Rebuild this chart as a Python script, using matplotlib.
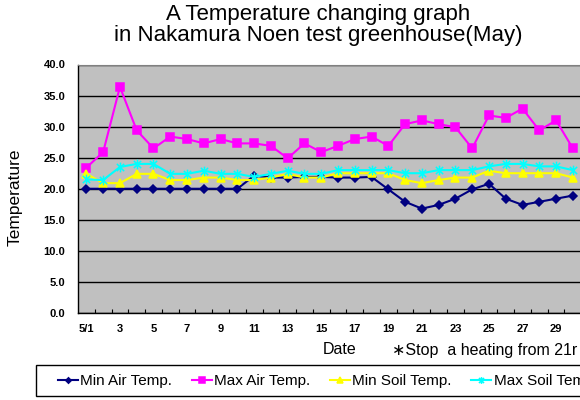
import numpy as np
import matplotlib
matplotlib.use("Agg")
import matplotlib.pyplot as plt
from matplotlib.path import Path
from matplotlib.patches import Rectangle

plt.rcParams['font.family'] = ['Liberation Sans', 'DejaVu Sans']

# Data (May, day 31 not visible)
days = list(range(1, 32))
tick_days = [d for d in days if d % 2 == 1 and d < 31]
tick_labels = ["5/1" if d == 1 else str(d) for d in tick_days]

min_air = [20.0, 20.0, 20.0, 20.0, 20.0, 20.0, 20.0, 20.0, 20.0, 20.0,
           22.1, 21.8, 21.8, 21.9, 21.9, 21.8, 21.8, 21.9, 19.9, 17.9,
           16.8, 17.4, 18.4, 19.9, 20.8, 18.4, 17.4, 17.9, 18.4, 18.9, np.nan]
max_air = [23.4, 25.9, 36.4, 29.4, 26.5, 28.4, 28.0, 27.3, 28.0, 27.3,
           27.3, 26.9, 24.9, 27.3, 25.9, 26.9, 28.0, 28.4, 26.9, 30.4,
           31.0, 30.4, 29.9, 26.5, 31.8, 31.4, 32.9, 29.4, 31.0, 26.5, np.nan]
min_soil = [22.4, 20.9, 20.9, 22.4, 22.4, 21.4, 21.4, 21.8, 21.8, 21.4,
            21.4, 21.8, 22.4, 21.8, 21.8, 22.5, 22.5, 22.5, 22.5, 21.4,
            20.9, 21.4, 21.8, 21.8, 22.9, 22.5, 22.5, 22.5, 22.5, 21.8, np.nan]
max_soil = [21.5, 21.4, 23.5, 24.0, 24.0, 22.4, 22.4, 22.9, 22.4, 22.4,
            21.9, 22.4, 22.9, 22.4, 22.4, 23.0, 23.0, 23.0, 23.0, 22.5,
            22.5, 23.0, 23.0, 23.0, 23.6, 24.0, 24.0, 23.6, 23.6, 23.0, np.nan]

# Excel-like star marker: X with a vertical bar
star = Path([(0, -1), (0, 1), (-0.75, -0.75), (0.75, 0.75),
             (-0.75, 0.75), (0.75, -0.75)],
            [Path.MOVETO, Path.LINETO] * 3)

series = [
    ("Min Air Temp.", min_air, "#000080", "D", 4),
    ("Max Air Temp.", max_air, "#FF00FF", "s", 5.5),
    ("Min Soil Temp.", min_soil, "#FFFF00", "^", 6),
    ("Max Soil Temp.", max_soil, "#00FFFF", star, 7),
]

# Figure
fig = plt.figure(figsize=(5.8, 4.0), dpi=100)
ax = fig.add_axes([78 / 580, 87 / 400, 520 / 580, 248.5 / 400])
ax.set_facecolor("#C0C0C0")

x = np.arange(len(days))
for name, vals, color, marker, ms in series:
    ax.plot(x, vals, color=color, linewidth=1.5, marker=marker,
            markersize=ms, markeredgecolor=color, markeredgewidth=1.1,
            label=name, clip_on=False)

ax.set_xlim(-0.5, len(days) - 0.5)
ax.set_ylim(0, 40)

# Y axis
ax.set_yticks(np.arange(0, 41, 5))
ax.set_yticklabels([f"{v:.1f}" for v in np.arange(0, 41, 5)],
                   fontsize=8, fontweight="bold")
ax.yaxis.grid(True, color="black", linewidth=1.0)
ax.set_axisbelow(True)
ax.tick_params(axis="y", length=0, pad=9)

# X axis: labels at odd days, ticks at category boundaries
ax.set_xticks([d - 1 for d in tick_days])
ax.set_xticklabels(tick_labels, fontsize=8, fontweight="bold")
ax.set_xticks(np.arange(0.5, len(days) - 0.5, 1), minor=True)
ax.tick_params(axis="x", which="major", length=0, pad=8)
ax.tick_params(axis="x", which="minor", direction="in", length=3,
               width=0.8, color="black")

for side in ["top", "right"]:
    ax.spines[side].set_color("#808080")
for side in ["left", "bottom"]:
    ax.spines[side].set_color("black")
    ax.spines[side].set_linewidth(1.0)

# Texts
fig.text(318 / 580, 1 - 25 / 400,
         "A Temperature changing graph\nin Nakamura Noen test greenhouse(May)",
         ha="center", va="center", fontsize=16, linespacing=1.05)
fig.text(15 / 580, 1 - 197 / 400, "Temperature", rotation=90,
         ha="center", va="center", fontsize=12.5)
fig.text(323 / 580, 1 - 350 / 400, "Date", ha="left", va="center",
         fontsize=11.5)
fig.text(392 / 580, 1 - 350 / 400, "\u2217Stop  a heating from 21r",
         ha="left", va="center", fontsize=11.5)

# Legend box (runs off the right edge like the reference)
fig.patches.append(Rectangle((36 / 580, 1 - 396 / 400), 600 / 580, 31 / 400,
                             transform=fig.transFigure, facecolor="white",
                             edgecolor="black", linewidth=1.0))
leg = fig.legend(loc="center left", bbox_to_anchor=(58 / 580, 1 - 381 / 400),
                 ncol=4, fontsize=11, frameon=False,
                 handlelength=1.3, handletextpad=0.15, columnspacing=1.3,
                 borderpad=0, borderaxespad=0, markerscale=0.7)

plt.savefig("out.png", dpi=100)
